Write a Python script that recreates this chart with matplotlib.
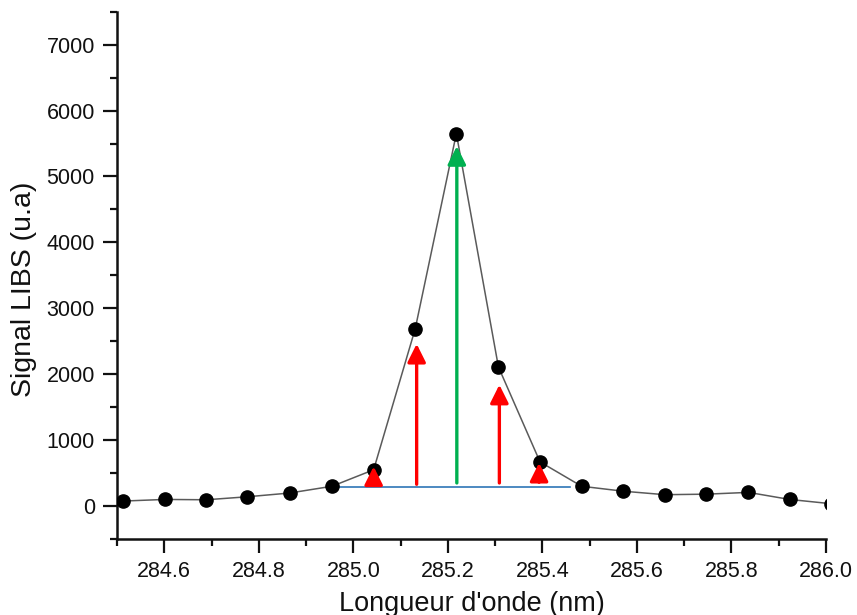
import matplotlib
matplotlib.use("Agg")
import matplotlib.pyplot as plt
from matplotlib.ticker import MultipleLocator

plt.rcParams['font.family'] = ['Liberation Sans', 'DejaVu Sans']

# Spectrum data
wavelength = [284.512, 284.601, 284.689, 284.775, 284.865, 284.955, 285.043,
              285.131, 285.218, 285.307, 285.395, 285.483, 285.571, 285.659,
              285.747, 285.836, 285.923, 286.011]
signal = [75, 100, 95, 140, 197, 300, 550, 2690, 5650, 2110, 670, 300,
          225, 172, 180, 207, 100, 35]

# Annotation arrows (x, tail y, tip y)
red_x = [285.043, 285.134, 285.309, 285.393]
red_tail = [330, 330, 350, 360]
red_tip = [600, 2460, 1840, 655]
green_x = [285.219]
green_tail = [350]
green_tip = [5460]

# Baseline segment
base_x = [284.97, 285.459]
base_y = [283, 283]

fig = plt.figure(figsize=(8.57, 6.15), dpi=100)
ax = fig.add_axes([0.1365, 0.1236, 0.9638 - 0.1365, 0.981 - 0.1236])

ax.plot(wavelength, signal, color='#5a5a5a', lw=1.1, marker='o', ms=9.5,
        mfc='black', mec='black', zorder=3)

ax.plot(base_x, base_y, color='#2e75b6', lw=1.2, zorder=2)

style = '-|>,head_length=1.1,head_width=0.55'
for x, t0, t1 in zip(red_x, red_tail, red_tip):
    ax.annotate('', xy=(x, t1), xytext=(x, t0),
                arrowprops=dict(arrowstyle=style, color='#ff0000', lw=2.4,
                                shrinkA=0, shrinkB=0),
                zorder=4)
for x, t0, t1 in zip(green_x, green_tail, green_tip):
    ax.annotate('', xy=(x, t1), xytext=(x, t0),
                arrowprops=dict(arrowstyle=style, color='#00b050', lw=2.4,
                                shrinkA=0, shrinkB=0),
                zorder=4)

ax.set_xlim(284.5, 286.0)
ax.set_ylim(-500, 7500)
ax.xaxis.set_minor_locator(MultipleLocator(0.1))
ax.yaxis.set_major_locator(MultipleLocator(1000))
ax.yaxis.set_minor_locator(MultipleLocator(500))
ax.set_xticks([284.6, 284.8, 285.0, 285.2, 285.4, 285.6, 285.8, 286.0])
ax.set_xticklabels(['284.6', '284.8', '285.0', '285.2', '285.4', '285.6', '285.8', '286.0'])

for s in ['top', 'right']:
    ax.spines[s].set_visible(False)
for s in ['left', 'bottom']:
    ax.spines[s].set_linewidth(1.8)
    ax.spines[s].set_color('#111111')

ax.tick_params(which='major', direction='out', length=10, width=1.6,
               labelsize=15.5, colors='#111111', pad=6)
ax.tick_params(which='minor', direction='out', length=5, width=1.6, colors='#111111')

ax.set_xlabel("Longueur d'onde (nm)", fontsize=19.5, color='#111111', labelpad=6)
ax.set_ylabel("Signal LIBS (u.a)", fontsize=20.5, color='#111111')
ax.yaxis.set_label_coords(-0.113, 0.474)

fig.savefig('out.png', dpi=100)
